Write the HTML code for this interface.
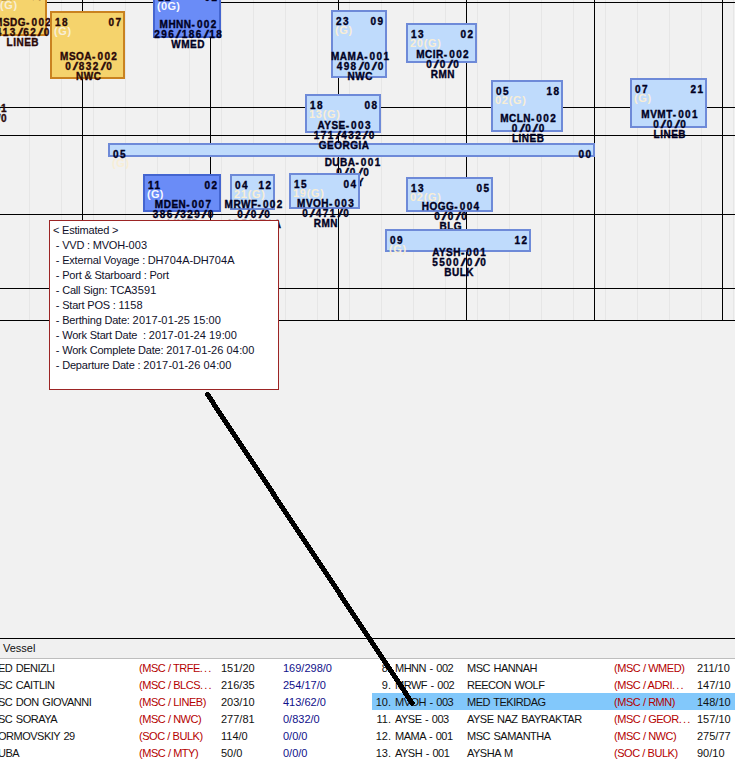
<!DOCTYPE html><html><head><meta charset="utf-8"><title>Berth</title><style>
html,body{margin:0;padding:0}
body{width:735px;height:761px;overflow:hidden;position:relative;background:#f1f1f1;font-family:"Liberation Sans",sans-serif}
div{position:absolute;box-sizing:border-box}
.vl{top:0;width:1px;height:321px;background:#e6e6e6}
.vb{top:0;width:1px;height:321px;background:#000}
.hb{left:0;width:735px;height:1px;background:#000}
.bx{border:2px solid #6e8ad8;background:#bfdbfc}
.by{border:2px solid #c98220;background:#f5d36c}
.bd{border:2px solid #4465d0;background:#6a8cf7}
.t{font:bold 10px/10px "Liberation Sans",sans-serif;letter-spacing:0.5px;white-space:nowrap;color:#000;-webkit-text-stroke:0.35px currentColor}
.c{width:300px;text-align:center}
.sl{display:inline-block;width:6.6px;text-align:center;letter-spacing:0;transform:scaleX(1.9);font-weight:normal}
.t .dg{letter-spacing:1.4px}
.hy{letter-spacing:2px}
.gg{font:11px/11px "Liberation Sans",sans-serif;letter-spacing:0.8px;white-space:nowrap}
.r{width:100px;text-align:right}
.g{color:#f8eed6;font-weight:bold;letter-spacing:0.7px}
.gd{color:rgba(255,255,255,0.95);font-weight:bold;letter-spacing:0.3px}
.ny{color:#2a0808}
.nb{color:#000022}
.tt{font:11px/15px "Liberation Sans",sans-serif;color:#10102a;white-space:pre;letter-spacing:-0.2px}
.dg{letter-spacing:0.2px}
.tb{font:11px/17px "Liberation Sans",sans-serif;letter-spacing:-0.5px;word-spacing:1px;white-space:pre;color:#111}
.nm{letter-spacing:0}
.rd{letter-spacing:-0.45px;word-spacing:0}
.dt{letter-spacing:1.2px}
.red{color:#b40000}
.blu{color:#10108a}
</style></head><body><div class="vl" style="left:29px"></div><div class="vl" style="left:61px"></div><div class="vl" style="left:93px"></div><div class="vl" style="left:125px"></div><div class="vl" style="left:157px"></div><div class="vl" style="left:189px"></div><div class="vl" style="left:221px"></div><div class="vl" style="left:253px"></div><div class="vl" style="left:285px"></div><div class="vl" style="left:317px"></div><div class="vl" style="left:349px"></div><div class="vl" style="left:381px"></div><div class="vl" style="left:413px"></div><div class="vl" style="left:445px"></div><div class="vl" style="left:477px"></div><div class="vl" style="left:509px"></div><div class="vl" style="left:541px"></div><div class="vl" style="left:573px"></div><div class="vl" style="left:605px"></div><div class="vl" style="left:637px"></div><div class="vl" style="left:669px"></div><div class="vl" style="left:701px"></div><div class="vl" style="left:733px"></div><div class="vb" style="left:82px"></div><div class="vb" style="left:210px"></div><div class="vb" style="left:338px"></div><div class="vb" style="left:466px"></div><div class="vb" style="left:594px"></div><div class="vb" style="left:722px"></div><div class="hb" style="top:2px"></div><div class="hb" style="top:107px"></div><div class="hb" style="top:135px"></div><div class="hb" style="top:214px"></div><div class="hb" style="top:288px"></div><div class="hb" style="top:320px"></div><div class="by" style="left:-4px;top:-15px;width:51px;height:51px"><div class="t ny" style="left:3px;top:5px;letter-spacing:1.4px">18</div><div class="t r ny" style="right:0.6000000000000001px;top:5px;letter-spacing:1.4px">07</div><div class="gg g" style="left:2px;top:12.5px">(G)</div></div><div class="t c ny" style="left:-126.8px;top:18.0px">MSDG<span class="hy">-</span><span class="dg">002</span></div><div class="t c ny" style="left:-126.8px;top:28.0px"><span class="dg">413</span><span class="sl">/</span><span class="dg">62</span><span class="sl">/</span><span class="dg">0</span></div><div class="t c ny" style="left:-127.2px;top:38.0px">LINEB</div><div class="by" style="left:50px;top:11px;width:75px;height:68px"><div class="t ny" style="left:3px;top:5px;letter-spacing:1.4px">18</div><div class="t r ny" style="right:0.6000000000000001px;top:5px;letter-spacing:1.4px">07</div><div class="gg g" style="left:2px;top:12.5px">(G)</div></div><div class="t c ny" style="left:-60.8px;top:52.0px">MSOA<span class="hy">-</span><span class="dg">002</span></div><div class="t c ny" style="left:-60.8px;top:62.0px"><span class="dg">0</span><span class="sl">/</span><span class="dg">832</span><span class="sl">/</span><span class="dg">0</span></div><div class="t c ny" style="left:-61.2px;top:72.0px">NWC</div><div class="bd" style="left:153px;top:-14px;width:68px;height:52px"><div class="t nb" style="left:3px;top:5px;letter-spacing:1.4px">12</div><div class="t r nb" style="right:0.6000000000000001px;top:5px;letter-spacing:1.4px">02</div><div class="gg gd" style="left:2px;top:12.5px">(0G)</div></div><div class="t c nb" style="left:38.7px;top:20.0px">MHNN<span class="hy">-</span><span class="dg">002</span></div><div class="t c nb" style="left:38.7px;top:30.0px"><span class="dg">296</span><span class="sl">/</span><span class="dg">186</span><span class="sl">/</span><span class="dg">18</span></div><div class="t c nb" style="left:38.2px;top:40.0px">WMED</div><div class="bx" style="left:331px;top:10px;width:56px;height:68px"><div class="t nb" style="left:3px;top:5px;letter-spacing:1.4px">23</div><div class="t r nb" style="right:0.6000000000000001px;top:5px;letter-spacing:1.4px">09</div><div class="gg g" style="left:2px;top:12.5px">(G)</div></div><div class="t c nb" style="left:210.7px;top:52.0px">MAMA<span class="hy">-</span><span class="dg">001</span></div><div class="t c nb" style="left:210.7px;top:62.0px"><span class="dg">498</span><span class="sl">/</span><span class="dg">0</span><span class="sl">/</span><span class="dg">0</span></div><div class="t c nb" style="left:210.2px;top:72.0px">NWC</div><div class="bx" style="left:406px;top:23px;width:71px;height:40px"><div class="t nb" style="left:3px;top:5px;letter-spacing:1.4px">13</div><div class="t r nb" style="right:0.6000000000000001px;top:5px;letter-spacing:1.4px">02</div><div class="gg g" style="left:2px;top:12.5px">20(G)</div></div><div class="t c nb" style="left:293.2px;top:50.0px">MCIR<span class="hy">-</span><span class="dg">002</span></div><div class="t c nb" style="left:293.2px;top:60.0px"><span class="dg">0</span><span class="sl">/</span><span class="dg">0</span><span class="sl">/</span><span class="dg">0</span></div><div class="t c nb" style="left:292.8px;top:70.0px">RMN</div><div class="bx" style="left:491px;top:80px;width:72px;height:52px"><div class="t nb" style="left:3px;top:5px;letter-spacing:1.4px">05</div><div class="t r nb" style="right:0.6000000000000001px;top:5px;letter-spacing:1.4px">18</div><div class="gg g" style="left:2px;top:12.5px">02(G)</div></div><div class="t c nb" style="left:378.7px;top:114.0px">MCLN<span class="hy">-</span><span class="dg">002</span></div><div class="t c nb" style="left:378.7px;top:124.0px"><span class="dg">0</span><span class="sl">/</span><span class="dg">0</span><span class="sl">/</span><span class="dg">0</span></div><div class="t c nb" style="left:378.2px;top:134.0px">LINEB</div><div class="bx" style="left:630px;top:78px;width:77px;height:50px"><div class="t nb" style="left:3px;top:5px;letter-spacing:1.4px">07</div><div class="t r nb" style="right:0.6000000000000001px;top:5px;letter-spacing:1.4px">21</div><div class="gg g" style="left:2px;top:12.5px">(G)</div></div><div class="t c nb" style="left:520.2px;top:110.0px">MVMT<span class="hy">-</span><span class="dg">001</span></div><div class="t c nb" style="left:520.2px;top:120.0px"><span class="dg">0</span><span class="sl">/</span><span class="dg">0</span><span class="sl">/</span><span class="dg">0</span></div><div class="t c nb" style="left:519.8px;top:130.0px">LINEB</div><div class="bx" style="left:108px;top:143px;width:487px;height:14px"><div class="t nb" style="left:3px;top:5px;letter-spacing:1.4px">05</div><div class="t r nb" style="right:0.6000000000000001px;top:5px;letter-spacing:1.4px">00</div><div class="gg g" style="left:2px;top:12.5px">(G)</div></div><div class="t c nb" style="left:203.2px;top:158.0px">DUBA<span class="hy">-</span><span class="dg">001</span></div><div class="t c nb" style="left:203.2px;top:168.0px"><span class="dg">0</span><span class="sl">/</span><span class="dg">0</span><span class="sl">/</span><span class="dg">0</span></div><div class="t c nb" style="left:202.8px;top:178.0px">MTY</div><div class="bx" style="left:305px;top:94px;width:76px;height:39px"><div class="t nb" style="left:3px;top:5px;letter-spacing:1.4px">18</div><div class="t r nb" style="right:0.6000000000000001px;top:5px;letter-spacing:1.4px">08</div><div class="gg g" style="left:2px;top:12.5px">13(G)</div></div><div class="t c nb" style="left:194.7px;top:121.0px">AYSE<span class="hy">-</span><span class="dg">003</span></div><div class="t c nb" style="left:194.7px;top:131.0px"><span class="dg">171</span><span class="sl">/</span><span class="dg">432</span><span class="sl">/</span><span class="dg">0</span></div><div class="t c nb" style="left:194.2px;top:141.0px">GEORGIA</div><div class="bd" style="left:143px;top:174px;width:78px;height:38px"><div class="t nb" style="left:3px;top:5px;letter-spacing:1.4px">11</div><div class="t r nb" style="right:0.6000000000000001px;top:5px;letter-spacing:1.4px">02</div><div class="gg gd" style="left:2px;top:12.5px">(G)</div></div><div class="t c nb" style="left:33.7px;top:200.0px">MDEN<span class="hy">-</span><span class="dg">007</span></div><div class="t c nb" style="left:33.7px;top:210.0px"><span class="dg">386</span><span class="sl">/</span><span class="dg">329</span><span class="sl">/</span><span class="dg">0</span></div><div class="t c nb" style="left:33.2px;top:220.0px">LINEB</div><div class="bx" style="left:230px;top:174px;width:45px;height:36px"><div class="t nb" style="left:3px;top:5px;letter-spacing:1.4px">04</div><div class="t r nb" style="right:0.6000000000000001px;top:5px;letter-spacing:1.4px">12</div><div class="gg g" style="left:2px;top:12.5px">21(G)</div></div><div class="t c nb" style="left:104.2px;top:200.0px">MRWF<span class="hy">-</span><span class="dg">002</span></div><div class="t c nb" style="left:104.2px;top:210.0px"><span class="dg">0</span><span class="sl">/</span><span class="dg">0</span><span class="sl">/</span><span class="dg">0</span></div><div class="t c nb" style="left:103.8px;top:220.0px">ADRIATCA</div><div class="bx" style="left:289px;top:173px;width:71px;height:36px"><div class="t nb" style="left:3px;top:5px;letter-spacing:1.4px">15</div><div class="t r nb" style="right:0.6000000000000001px;top:5px;letter-spacing:1.4px">04</div><div class="gg g" style="left:2px;top:12.5px">19(G)</div></div><div class="t c nb" style="left:176.2px;top:199.0px">MVOH<span class="hy">-</span><span class="dg">003</span></div><div class="t c nb" style="left:176.2px;top:209.0px"><span class="dg">0</span><span class="sl">/</span><span class="dg">471</span><span class="sl">/</span><span class="dg">0</span></div><div class="t c nb" style="left:175.8px;top:219.0px">RMN</div><div class="bx" style="left:406px;top:177px;width:87px;height:35px"><div class="t nb" style="left:3px;top:5px;letter-spacing:1.4px">13</div><div class="t r nb" style="right:0.6000000000000001px;top:5px;letter-spacing:1.4px">05</div><div class="gg g" style="left:2px;top:12.5px">02(G)</div></div><div class="t c nb" style="left:301.2px;top:202.0px">HOGG<span class="hy">-</span><span class="dg">004</span></div><div class="t c nb" style="left:301.2px;top:212.0px"><span class="dg">0</span><span class="sl">/</span><span class="dg">0</span><span class="sl">/</span><span class="dg">0</span></div><div class="t c nb" style="left:300.8px;top:222.0px">BLG</div><div class="bx" style="left:385px;top:229px;width:146px;height:23px"><div class="t nb" style="left:3px;top:5px;letter-spacing:1.4px">09</div><div class="t r nb" style="right:0.6000000000000001px;top:5px;letter-spacing:1.4px">12</div><div class="gg g" style="left:2px;top:12.5px">(G)</div></div><div class="t c nb" style="left:309.7px;top:248.0px">AYSH<span class="hy">-</span><span class="dg">001</span></div><div class="t c nb" style="left:309.7px;top:258.0px"><span class="dg">5500</span><span class="sl">/</span><span class="dg">0</span><span class="sl">/</span><span class="dg">0</span></div><div class="t c nb" style="left:309.2px;top:268.0px">BULK</div><div class="t r ny" style="left:-93px;top:104px">001</div><div class="t r ny" style="left:-93px;top:114px">0/0/0</div><div style="left:49px;top:220px;width:230px;height:170px;background:#fff;border:1px solid #9c2424"></div><div class="tt" style="left:53px;top:223px">&lt; Estimated &gt;</div><div class="tt" style="left:53px;top:238px"> - VVD : MVOH-<span class="dg">003</span></div><div class="tt" style="left:53px;top:253px"> - External Voyage : DH<span class="dg">704</span>A-DH<span class="dg">704</span>A</div><div class="tt" style="left:53px;top:268px"> - Port &amp; Starboard : Port</div><div class="tt" style="left:53px;top:283px"> - Call Sign: TCA<span class="dg">3591</span></div><div class="tt" style="left:53px;top:298px"> - Start POS : <span class="dg">1158</span></div><div class="tt" style="left:53px;top:313px"> - Berthing Date: <span class="dg">2017</span>-<span class="dg">01</span>-<span class="dg">25</span> <span class="dg">15</span>:<span class="dg">00</span></div><div class="tt" style="left:53px;top:328px"> - Work Start Date  : <span class="dg">2017</span>-<span class="dg">01</span>-<span class="dg">24</span> <span class="dg">19</span>:<span class="dg">00</span></div><div class="tt" style="left:53px;top:343px"> - Work Complete Date: <span class="dg">2017</span>-<span class="dg">01</span>-<span class="dg">26</span> <span class="dg">04</span>:<span class="dg">00</span></div><div class="tt" style="left:53px;top:358px"> - Departure Date : <span class="dg">2017</span>-<span class="dg">01</span>-<span class="dg">26</span> <span class="dg">04</span>:<span class="dg">00</span></div><div style="left:0;top:638px;width:735px;height:1px;background:#000"></div><div style="left:0;top:639px;width:735px;height:20px;background:#f0f0f0;border-bottom:1px solid #bdbdbd"></div><div class="tb" style="left:3px;top:640px;letter-spacing:0">Vessel</div><div style="left:0;top:659px;width:735px;height:102px;background:#fff"></div><div style="left:372px;top:693px;width:363px;height:17px;background:#82c8fb"></div><div class="tb" style="left:-2px;top:660px">ED DENIZLI</div><div class="tb red rd" style="left:139px;top:660px">(MSC / TRFE<span class="dt">...</span></div><div class="tb nm" style="left:221px;top:660px">151/20</div><div class="tb blu nm" style="left:283px;top:660px">169/298/0</div><div class="tb" style="left:-2px;top:677px">SC CAITLIN</div><div class="tb red rd" style="left:139px;top:677px">(MSC / BLCS<span class="dt">...</span></div><div class="tb nm" style="left:221px;top:677px">216/35</div><div class="tb blu nm" style="left:283px;top:677px">254/17/0</div><div class="tb" style="left:-2px;top:694px">SC DON GIOVANNI</div><div class="tb red rd" style="left:139px;top:694px">(MSC / LINEB)</div><div class="tb nm" style="left:221px;top:694px">203/10</div><div class="tb blu nm" style="left:283px;top:694px">413/62/0</div><div class="tb" style="left:-2px;top:711px">SC SORAYA</div><div class="tb red rd" style="left:139px;top:711px">(MSC / NWC)</div><div class="tb nm" style="left:221px;top:711px">277/81</div><div class="tb blu nm" style="left:283px;top:711px">0/832/0</div><div class="tb" style="left:-2px;top:728px">ORMOVSKIY 29</div><div class="tb red rd" style="left:139px;top:728px">(SOC / BULK)</div><div class="tb nm" style="left:221px;top:728px">114/0</div><div class="tb blu nm" style="left:283px;top:728px">0/0/0</div><div class="tb" style="left:-2px;top:745px">UBA</div><div class="tb red rd" style="left:139px;top:745px">(MSC / MTY)</div><div class="tb nm" style="left:221px;top:745px">50/0</div><div class="tb blu nm" style="left:283px;top:745px">0/0/0</div><div class="tb r nm" style="left:291px;top:660px;width:100px">8.</div><div class="tb" style="left:395px;top:660px">MHNN - 002</div><div class="tb" style="left:467px;top:660px">MSC HANNAH</div><div class="tb red rd" style="left:614px;top:660px">(MSC / WMED)</div><div class="tb nm" style="left:697px;top:660px">211/10</div><div class="tb r nm" style="left:291px;top:677px;width:100px">9.</div><div class="tb" style="left:395px;top:677px">MRWF - 002</div><div class="tb" style="left:467px;top:677px">REECON WOLF</div><div class="tb red rd" style="left:614px;top:677px">(MSC / ADRI<span class="dt">...</span></div><div class="tb nm" style="left:697px;top:677px">147/10</div><div class="tb r nm" style="left:291px;top:694px;width:100px">10.</div><div class="tb" style="left:395px;top:694px">MVOH - 003</div><div class="tb" style="left:467px;top:694px">MED TEKIRDAG</div><div class="tb red rd" style="left:614px;top:694px">(MSC / RMN)</div><div class="tb nm" style="left:697px;top:694px">148/10</div><div class="tb r nm" style="left:291px;top:711px;width:100px">11.</div><div class="tb" style="left:395px;top:711px">AYSE - 003</div><div class="tb" style="left:467px;top:711px">AYSE NAZ BAYRAKTAR</div><div class="tb red rd" style="left:614px;top:711px">(MSC / GEOR<span class="dt">...</span></div><div class="tb nm" style="left:697px;top:711px">157/10</div><div class="tb r nm" style="left:291px;top:728px;width:100px">12.</div><div class="tb" style="left:395px;top:728px">MAMA - 001</div><div class="tb" style="left:467px;top:728px">MSC SAMANTHA</div><div class="tb red rd" style="left:614px;top:728px">(MSC / NWC)</div><div class="tb nm" style="left:697px;top:728px">275/77</div><div class="tb r nm" style="left:291px;top:745px;width:100px">13.</div><div class="tb" style="left:395px;top:745px">AYSH - 001</div><div class="tb" style="left:467px;top:745px">AYSHA M</div><div class="tb red rd" style="left:614px;top:745px">(SOC / BULK)</div><div class="tb nm" style="left:697px;top:745px">90/10</div><svg style="position:absolute;left:0;top:0" width="735" height="761"><line x1="207.6" y1="394.6" x2="412.2" y2="703.1" stroke="#000" stroke-width="5" stroke-linecap="round" shape-rendering="crispEdges"/></svg></body></html>
